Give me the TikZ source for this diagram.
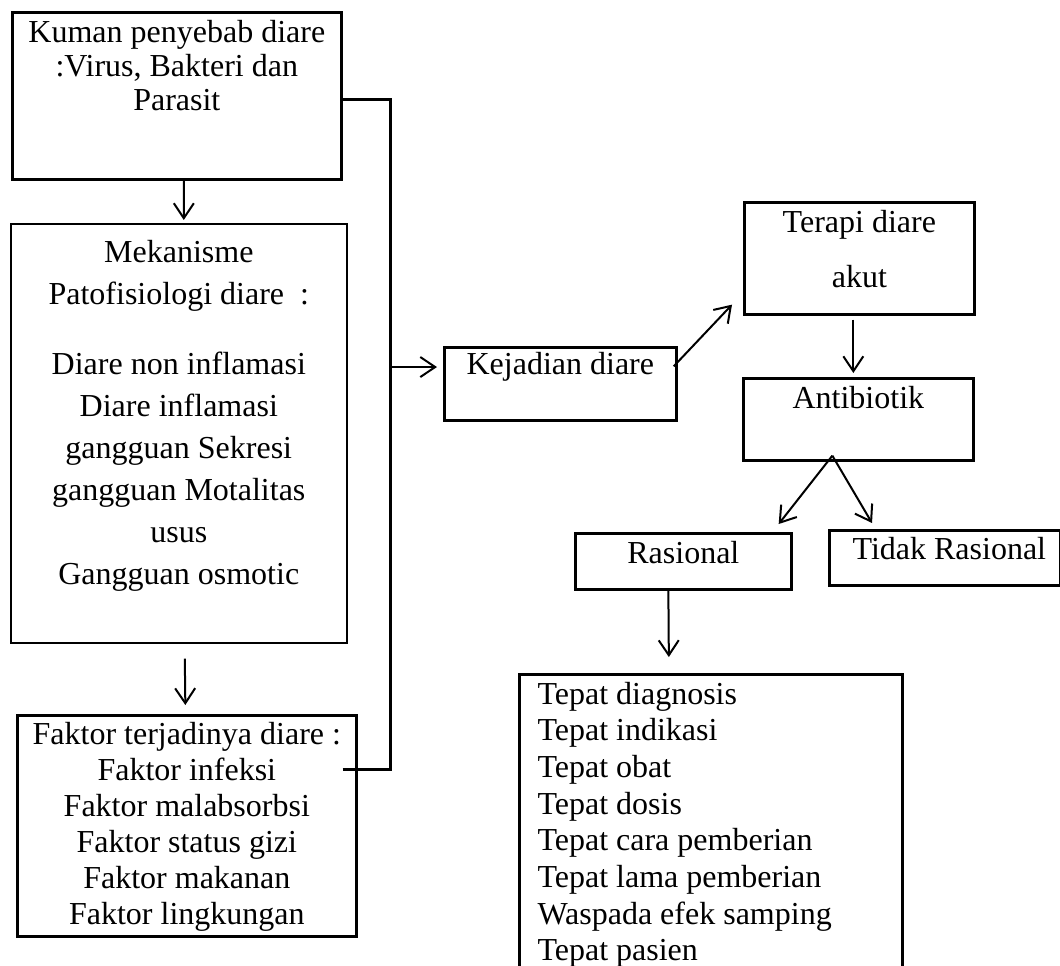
\documentclass[tikz,border=0pt]{standalone}
\usepackage{fontspec}
\setmainfont{Liberation Serif}
\usetikzlibrary{arrows.meta}
\newcommand{\pxu}{0.375pt}
\tikzset{
  box/.style={draw, line width=1pt, inner sep=0pt, anchor=north west},
  txt/.style={inner sep=0pt, anchor=north, align=center, font=\fontsize{12pt}{#1}\selectfont},
  arr/.style={line width=0.75pt, -{Straight Barb[length=5.6pt,width=7.5pt]}},
  link/.style={line width=1.1pt},
}

\begin{document}
\begin{tikzpicture}[x=\pxu, y=-\pxu]
  \useasboundingbox (0,0) rectangle (1060,965);

  \node[box, minimum width=329*\pxu, minimum height=167*\pxu] (kuman) at (11,11) {};
  \node[txt=12.75pt] (kuman-t) at ([shift={(0,9)}]kuman.north) {Kuman penyebab diare\\:Virus, Bakteri dan\\Parasit};

  \node[box, line width=0.6pt, minimum width=336*\pxu, minimum height=419*\pxu] (meka) at (10,223) {};
  \node[txt=15.75pt] (meka-t) at ([shift={(0,17)}]meka.north) {Mekanisme\\Patofisiologi diare\ \ :\\[10.5pt]Diare non inflamasi\\Diare inflamasi\\gangguan Sekresi\\gangguan Motalitas\\usus\\Gangguan osmotic};

  \node[box, minimum width=339*\pxu, minimum height=221*\pxu] (faktor) at (16,714) {};
  \node[txt=13.5pt] (faktor-t) at ([shift={(0,8)}]faktor.north) {Faktor terjadinya diare :\\Faktor infeksi\\Faktor malabsorbsi\\Faktor status gizi\\Faktor makanan\\Faktor lingkungan};

  \node[box, minimum width=232*\pxu, minimum height=73*\pxu] (kejadian) at (443,346) {};
  \node[txt=13.5pt] (kejadian-t) at ([shift={(0,6)}]kejadian.north) {Kejadian diare};

  \node[box, minimum width=230*\pxu, minimum height=112*\pxu] (terapi) at (743,201) {};
  \node[txt=20.6pt] (terapi-t) at ([shift={(0,8.5)}]terapi.north) {Terapi diare\\akut};

  \node[box, minimum width=230*\pxu, minimum height=82*\pxu] (antibiotik) at (742,377) {};
  \node[txt=13.5pt] (antibiotik-t) at ([shift={(0,9)}]antibiotik.north) {Antibiotik};

  \node[box, minimum width=216*\pxu, minimum height=56*\pxu] (rasional) at (574,532) {};
  \node[txt=13.5pt] (rasional-t) at ([shift={(0,9)}]rasional.north) {Rasional};

  \node[box, minimum width=231*\pxu, minimum height=55*\pxu] (tidak) at (828,529) {};
  \node[txt=13.5pt] (tidak-t) at ([shift={(4.5,8)}]tidak.north) {Tidak Rasional};

  \node[box, minimum width=383*\pxu, minimum height=300*\pxu] (tepat) at (518,673) {};
  \node[txt=13.75pt, anchor=north west, align=left] (tepat-t) at ([shift={(19,8.5)}]tepat.north west) {Tepat diagnosis\\Tepat indikasi\\Tepat obat\\Tepat dosis\\Tepat cara pemberian\\Tepat lama pemberian\\Waspada efek samping\\Tepat pasien};

  \coordinate (fk) at ([shift={(-15,-56.5)}]faktor.east);
  \coordinate (bus) at ([shift={(48,3.5)}]kuman.east);
  \coordinate (split) at ([shift={(-26,-6)}]antibiotik.south);

  \draw[arr] ([shift={(7,0)}]kuman.south) -- ([shift={(5,-3)}]meka.north);
  \draw[arr] ([shift={(6,15)}]meka.south) -- ([shift={(-1.5,-9)}]faktor.north);
  \draw[link] (fk) -| (bus) -- (bus -| kuman.east);
  \draw[arr] (bus |- kejadian-t) -- ([shift={(-6,0)}]kejadian.west |- kejadian-t);
  \draw[arr] ([shift={(-4,-17.5)}]kejadian.east) -- ([shift={(-11,-11)}]terapi.south west);
  \draw[arr] ([shift={(-6,4)}]terapi.south) -- ([shift={(-5,-4)}]antibiotik.north);
  \draw[arr] (split) -- ([shift={(-14,-8)}]rasional.north east);
  \draw[arr] (split) -- ([shift={(44,-6)}]tidak.north west);
  \draw[arr] ([shift={(-15,-2)}]rasional.south) -- ([shift={(-42,-16)}]tepat.north);
\end{tikzpicture}
\end{document}
